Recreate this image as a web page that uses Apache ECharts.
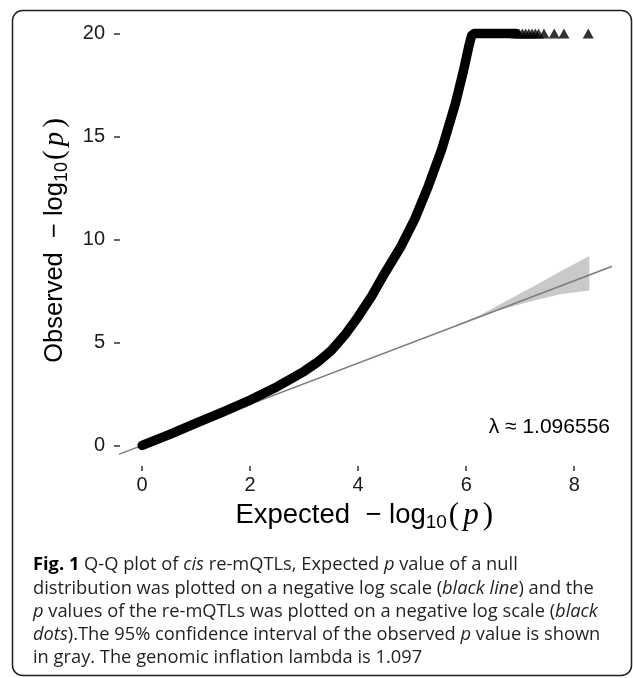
<!DOCTYPE html>
<html>
<head>
<meta charset="utf-8">
<script src="https://cdn.jsdelivr.net/npm/echarts@6/dist/echarts.min.js"></script>
<style>
  html, body { margin: 0; padding: 0; background: #fff; }
  #chart { width: 633px; height: 678px; }
</style>
</head>
<body>
<div id="chart"></div>
<script>
// observed -log10(p) against expected -log10(p)
const obsX = [0, 0.5, 1.0, 1.5, 2.0, 2.5, 3.0, 3.25, 3.5, 3.75, 4.0, 4.25, 4.5, 4.8, 5.05, 5.3, 5.55, 5.8, 5.95, 6.05, 6.1, 6.15, 6.5, 6.92];
const obsY = [0, 0.52, 1.08, 1.63, 2.2, 2.85, 3.6, 4.05, 4.6, 5.35, 6.25, 7.25, 8.4, 9.7, 11.0, 12.6, 14.4, 16.6, 18.2, 19.4, 19.9, 20, 20, 20];

// points capped at 20 (drawn as triangles)
const cappedX = [6.92, 6.98, 7.04, 7.1, 7.16, 7.22, 7.28, 7.34, 7.44, 7.63, 7.81, 8.26];
const cappedY = 20;

// 95% confidence band of the expected line
const bandX = [5.8, 6.26, 6.57, 7.19, 7.74, 8.28];
const bandUpper = [5.82, 6.33, 6.77, 7.64, 8.44, 9.2];
const bandLower = [5.79, 6.22, 6.54, 6.99, 7.34, 7.52];

// null expectation y = x
const refLine = [[-1, -1], [9, 9]];

const xTicks = [0, 2, 4, 6, 8];
const yTicks = [0, 5, 10, 15, 20];
const lambdaLabel = "λ ≈ 1.096556";

const captionLines = [
  "{b|Fig. 1} Q-Q plot of {i|cis} re-mQTLs, Expected {i|p} value of a null",
  "distribution was plotted on a negative log scale ({i|black line}) and the",
  "{i|p} values of the re-mQTLs was plotted on a negative log scale ({i|black}",
  "{i|dots}).The 95% confidence interval of the observed {i|p} value is shown",
  "in gray. The genomic inflation lambda is 1.097"
];

const chart = echarts.init(document.getElementById("chart"), null, { renderer: "canvas" });

const titleRich = {
  sub: { fontSize: 19, fontFamily: "Liberation Sans", color: "#000", verticalAlign: "bottom", lineHeight: 32 },
  par: { fontSize: 31, fontFamily: "Liberation Serif", color: "#000", lineHeight: 32, padding: [0, 2, 0, 2] },
  it: { fontSize: 31, fontFamily: "Liberation Serif", fontStyle: "italic", color: "#000", lineHeight: 32, padding: [0, 2, 0, 2] }
};

const yTitleRich = {
  sub: { ...titleRich.sub, fontSize: 18 },
  par: { ...titleRich.par, fontSize: 29 },
  it: { ...titleRich.it, fontSize: 29 }
};

const tickLabel = { color: "#1a1a1a", fontSize: 20, fontFamily: "Liberation Sans" };

const captionFont = { fontSize: 18.3, fontFamily: "Open Sans", fill: "#231f20" };

chart.setOption({
  animation: false,
  grid: { left: 120, right: 22.6, top: 13, bottom: 212 },
  xAxis: {
    type: "value",
    min: -0.41,
    max: 8.67,
    name: "Expected  − log{sub|10}{par|(}{it|p}{par|)}",
    nameLocation: "middle",
    nameGap: 32,
    nameTextStyle: { fontSize: 27.5, fontFamily: "Liberation Sans", color: "#000", lineHeight: 32, rich: titleRich },
    axisLine: { show: false, onZero: false },
    axisTick: { show: true, length: 5, customValues: xTicks, lineStyle: { color: "#333", width: 1.5 } },
    axisLabel: { ...tickLabel, margin: 9, customValues: xTicks },
    splitLine: { show: false }
  },
  yAxis: {
    type: "value",
    min: -1,
    max: 21,
    name: "Observed  − log{sub|10}{par|(}{it|p}{par|)}",
    nameLocation: "middle",
    nameGap: 49,
    nameTextStyle: { fontSize: 25.5, fontFamily: "Liberation Sans", color: "#000", lineHeight: 32, rich: yTitleRich },
    axisLine: { show: false, onZero: false },
    axisTick: { show: true, length: 6, customValues: yTicks, lineStyle: { color: "#333", width: 1.5 } },
    axisLabel: { ...tickLabel, margin: 15, customValues: yTicks },
    splitLine: { show: false }
  },
  series: [
    {
      type: "custom",
      z: 1,
      silent: true,
      clip: true,
      data: bandX.map((x, i) => [x, bandUpper[i], bandLower[i]]),
      encode: { x: 0, y: [1, 2] },
      renderItem(params, api) {
        if (params.dataIndex !== 0) return null;
        const pts = [];
        bandX.forEach((x, i) => pts.push(api.coord([x, bandUpper[i]])));
        for (let i = bandX.length - 1; i >= 0; i--) pts.push(api.coord([bandX[i], bandLower[i]]));
        return { type: "polygon", shape: { points: pts }, style: { fill: "#c9c9c9" } };
      }
    },
    {
      type: "line",
      z: 2,
      silent: true,
      clip: true,
      showSymbol: false,
      data: refLine,
      lineStyle: { color: "#7d7d7d", width: 1.6 }
    },
    {
      type: "line",
      z: 3,
      silent: true,
      showSymbol: false,
      data: obsX.map((x, i) => [x, obsY[i]]),
      lineStyle: { color: "#000", width: 9.5, cap: "round", join: "round" }
    },
    {
      type: "scatter",
      z: 4,
      silent: true,
      symbol: "triangle",
      symbolSize: [11, 10],
      itemStyle: { color: "#000" },
      data: cappedX.map((x) => [x, cappedY])
    }
  ],
  graphic: [
    {
      type: "rect",
      shape: { x: 12.5, y: 10.5, width: 619, height: 665, r: 10 },
      style: { fill: "none", stroke: "#231f20", lineWidth: 1.5 },
      silent: true
    },
    {
      type: "text",
      x: 610,
      y: 427,
      style: { text: lambdaLabel, fontSize: 21, fontFamily: "Liberation Sans", fill: "#000", align: "right", verticalAlign: "middle" }
    },
    ...captionLines.map((line, i) => ({
      type: "text",
      x: 33,
      y: 565 + i * 23.3,
      style: {
        text: line,
        ...captionFont,
        verticalAlign: "middle",
        rich: {
          b: { ...captionFont, fontWeight: "bold", fill: "#000" },
          i: { ...captionFont, fontStyle: "italic" }
        }
      }
    }))
  ]
});
</script>
</body>
</html>
